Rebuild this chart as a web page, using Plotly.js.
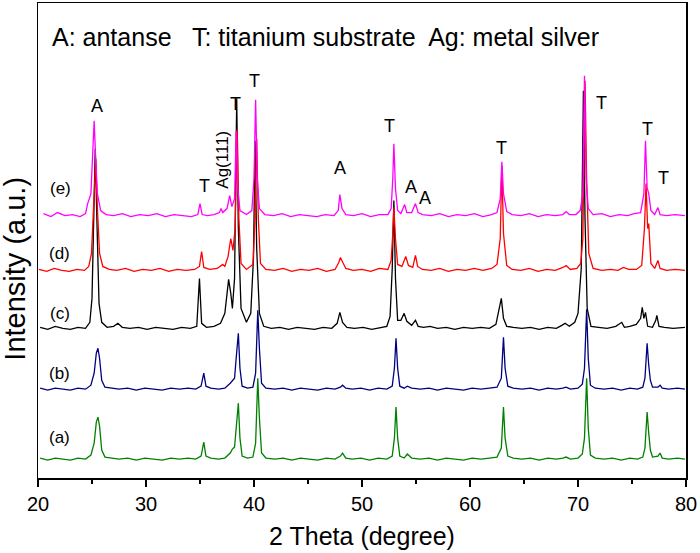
<!DOCTYPE html>
<html>
<head>
<meta charset="utf-8">
<script src="https://cdn.plot.ly/plotly-3.0.1.min.js"></script>
<style>html,body{margin:0;padding:0;background:#fff;}#chart{width:700px;height:553px;}</style>
</head>
<body>
<div id="chart"></div>
<script>
// ---- data (2 theta in degree, intensity in a.u. as plotted with stacking offset) ----
const seriesNames = ["(a)", "(b)", "(c)", "(d)", "(e)"];
const seriesColors = ["#008000", "#000080", "#000000", "#FF0000", "#FF00FF"];

const seriesE = [[20.5,265],[21.2,262],[21.8,266],[22.5,263],[23.2,264],[23.9,262],[24.4,265],[24.6,275],[24.9,285],[25.05,320],[25.2,358],[25.35,318],[25.5,285],[25.8,268],[26.3,264],[27.0,263],[27.8,265],[28.6,262],[29.4,264],[30.2,263],[31.0,265],[31.8,262],[32.6,264],[33.4,263],[34.2,262],[34.8,264],[35.0,275],[35.2,264],[35.7,263],[36.3,264],[36.8,266],[36.95,270],[37.1,266],[37.5,270],[37.75,283],[37.95,272],[38.2,280],[38.35,348],[38.5,290],[38.7,268],[39.3,264],[39.8,268],[40.0,300],[40.15,379],[40.3,300],[40.5,270],[41.0,264],[41.8,263],[42.6,265],[43.4,262],[44.2,264],[45.0,263],[45.8,262],[46.6,264],[47.4,263],[47.8,268],[47.95,284],[48.15,270],[48.5,264],[49.2,263],[50.0,265],[50.8,262],[51.6,264],[52.4,264],[52.7,270],[52.85,300],[52.95,335],[53.1,290],[53.3,268],[53.6,265],[53.95,274],[54.15,266],[54.6,266],[54.95,275],[55.2,266],[55.6,264],[56.4,263],[57.2,265],[58.0,262],[58.8,264],[59.6,263],[60.4,265],[61.2,262],[62.0,264],[62.5,266],[62.8,280],[62.95,317],[63.1,285],[63.4,267],[63.9,264],[64.7,263],[65.5,265],[66.3,262],[67.1,264],[67.9,263],[68.6,264],[68.9,267],[69.2,264],[69.8,264],[70.2,268],[70.45,285],[70.6,403],[70.75,300],[70.95,270],[71.4,264],[72.2,265],[73.0,262],[73.8,264],[74.6,263],[75.2,265],[75.8,266],[76.1,285],[76.25,338],[76.4,291],[76.55,285],[76.75,268],[77.1,264],[77.4,271],[77.6,264],[78.2,263],[79.0,264],[79.9,263]];

const seriesD = [[20.1,209],[20.8,207],[21.5,210],[22.2,208],[22.9,207],[23.6,209],[24.3,208],[24.7,212],[24.95,225],[25.15,270],[25.35,320],[25.5,270],[25.7,225],[26.0,212],[26.6,209],[27.3,208],[28.1,210],[28.9,207],[29.7,209],[30.5,208],[31.3,210],[32.1,207],[32.9,209],[33.7,208],[34.5,209],[34.95,212],[35.15,227],[35.35,211],[35.9,209],[36.6,210],[37.1,214],[37.3,212],[37.6,222],[37.85,240],[38.05,228],[38.25,250],[38.45,349],[38.6,260],[38.8,215],[39.3,209],[39.9,214],[40.1,260],[40.25,340],[40.4,260],[40.6,215],[41.1,209],[41.9,208],[42.7,210],[43.5,207],[44.3,209],[45.1,208],[45.9,210],[46.7,207],[47.5,209],[47.85,216],[48.0,221],[48.2,216],[48.5,210],[49.2,208],[50.0,209],[50.8,207],[51.6,210],[52.4,209],[52.7,218],[52.85,245],[52.95,271],[53.1,240],[53.3,214],[53.7,212],[54.05,222],[54.3,213],[54.7,211],[54.95,223],[55.15,212],[55.6,209],[56.4,208],[57.2,210],[58.0,207],[58.8,209],[59.6,208],[60.4,210],[61.2,208],[62.0,210],[62.5,214],[62.8,240],[62.95,313],[63.1,245],[63.4,213],[63.9,209],[64.7,208],[65.5,210],[66.3,207],[67.1,209],[67.9,208],[68.6,211],[68.9,213],[69.3,209],[69.9,210],[70.25,215],[70.45,240],[70.65,398],[70.8,300],[71.0,225],[71.4,210],[72.2,208],[73.0,209],[73.7,208],[74.2,211],[74.7,209],[75.4,209],[75.9,213],[76.15,250],[76.3,295],[76.45,250],[76.55,255],[76.75,215],[77.1,210],[77.4,218],[77.6,210],[78.2,208],[79.0,209],[79.9,208]];

const seriesC = [[20.2,151],[20.9,149],[21.6,152],[22.3,150],[23.0,149],[23.7,151],[24.4,150],[24.8,156],[25.0,180],[25.15,270],[25.3,330],[25.45,260],[25.65,175],[25.9,156],[26.4,151],[27.0,152],[27.4,155],[27.8,151],[28.5,150],[29.3,151],[30.1,149],[30.9,151],[31.7,150],[32.5,149],[33.3,151],[34.1,150],[34.7,152],[34.95,200],[35.15,155],[35.6,151],[36.3,152],[36.9,155],[37.3,165],[37.65,199],[37.85,185],[38.0,170],[38.2,200],[38.4,380],[38.55,250],[38.8,170],[39.3,156],[39.7,165],[39.95,220],[40.1,338],[40.25,230],[40.5,165],[40.9,152],[41.6,150],[42.4,151],[43.2,149],[44.0,151],[44.8,150],[45.6,149],[46.4,151],[47.2,150],[47.7,155],[47.95,166],[48.2,156],[48.6,151],[49.3,150],[50.1,151],[50.9,149],[51.7,151],[52.3,152],[52.6,162],[52.8,210],[52.95,278],[53.1,200],[53.3,158],[53.6,158],[53.9,165],[54.15,157],[54.6,153],[54.95,158],[55.2,152],[55.7,151],[56.3,152],[57.0,150],[57.8,151],[58.6,149],[59.4,151],[60.2,150],[61.0,151],[61.8,150],[62.4,154],[62.75,170],[62.9,180],[63.1,160],[63.4,152],[64.0,151],[64.8,150],[65.6,151],[66.4,149],[67.2,151],[68.0,150],[68.5,153],[68.8,155],[69.2,152],[69.7,156],[70.0,165],[70.3,210],[70.5,388],[70.65,260],[70.85,170],[71.2,152],[71.9,151],[72.7,150],[73.5,152],[74.05,156],[74.3,151],[74.8,152],[75.4,154],[75.8,160],[75.95,171],[76.1,160],[76.25,166],[76.45,152],[76.9,151],[77.2,158],[77.3,163],[77.5,152],[78.0,151],[78.8,150],[79.9,151]];

const seriesB = [[20.2,90],[20.9,88],[21.6,90],[22.3,89],[23.0,88],[23.7,90],[24.4,89],[24.9,93],[25.2,105],[25.4,125],[25.55,130],[25.7,120],[25.9,98],[26.2,91],[26.8,90],[27.5,89],[28.3,90],[29.1,88],[29.9,90],[30.7,89],[31.5,88],[32.3,90],[33.1,89],[33.9,90],[34.6,89],[35.1,92],[35.35,105],[35.55,92],[36.0,90],[36.7,89],[37.3,90],[37.8,95],[38.0,98],[38.2,100],[38.35,120],[38.55,145],[38.7,110],[38.9,92],[39.4,90],[39.9,91],[40.15,105],[40.35,168],[40.5,130],[40.7,95],[41.1,90],[41.9,89],[42.7,90],[43.5,88],[44.3,90],[45.1,89],[45.9,88],[46.7,90],[47.5,89],[48.0,91],[48.2,93],[48.5,90],[49.1,89],[49.9,90],[50.7,88],[51.5,90],[52.3,89],[52.8,92],[53.0,110],[53.15,140],[53.3,110],[53.5,92],[53.9,90],[54.2,92],[54.6,90],[55.4,89],[56.2,90],[57.0,88],[57.8,90],[58.6,89],[59.4,88],[60.2,90],[61.0,89],[61.8,90],[62.5,91],[62.9,100],[63.1,141],[63.25,110],[63.5,92],[64.0,90],[64.8,89],[65.6,90],[66.4,88],[67.2,90],[68.0,89],[68.6,90],[68.9,91],[69.3,89],[70.0,90],[70.4,94],[70.6,110],[70.8,169],[70.95,120],[71.15,93],[71.6,90],[72.4,89],[73.2,90],[74.0,88],[74.8,90],[75.5,89],[76.0,91],[76.2,100],[76.4,135],[76.55,113],[76.7,98],[76.9,91],[77.4,91],[77.6,93],[77.8,90],[78.4,89],[79.2,90],[79.9,89]];

const seriesA = [[20.2,20],[20.9,18],[21.6,20],[22.3,19],[23.0,18],[23.7,20],[24.4,19],[24.9,23],[25.2,35],[25.4,56],[25.55,61],[25.7,52],[25.9,28],[26.2,21],[26.8,20],[27.5,19],[28.3,20],[29.1,18],[29.9,20],[30.7,19],[31.5,18],[32.3,20],[33.1,19],[33.9,20],[34.6,19],[35.1,22],[35.35,36],[35.55,22],[36.0,20],[36.7,19],[37.3,20],[37.8,25],[38.0,29],[38.2,31],[38.35,50],[38.55,75],[38.7,40],[38.9,22],[39.4,20],[39.9,21],[40.15,35],[40.35,100],[40.5,60],[40.7,25],[41.1,20],[41.9,19],[42.7,20],[43.5,18],[44.3,20],[45.1,19],[45.9,18],[46.7,20],[47.5,19],[48.0,22],[48.2,25],[48.5,20],[49.1,19],[49.9,20],[50.7,18],[51.5,20],[52.3,19],[52.8,22],[53.0,40],[53.15,71],[53.3,40],[53.5,22],[53.9,20],[54.2,24],[54.6,20],[55.4,19],[56.2,20],[57.0,18],[57.8,20],[58.6,19],[59.4,18],[60.2,20],[61.0,19],[61.8,20],[62.5,21],[62.9,30],[63.1,71],[63.25,40],[63.5,22],[64.0,20],[64.8,19],[65.6,20],[66.4,18],[67.2,20],[68.0,19],[68.6,20],[68.9,21],[69.3,19],[70.0,20],[70.4,24],[70.6,40],[70.8,100],[70.95,50],[71.15,23],[71.6,20],[72.4,19],[73.2,20],[74.0,18],[74.8,20],[75.5,19],[76.0,21],[76.2,30],[76.4,66],[76.55,45],[76.7,28],[76.9,21],[77.4,22],[77.6,25],[77.8,20],[78.4,19],[79.2,20],[79.9,19]];

const allSeries = [seriesA, seriesB, seriesC, seriesD, seriesE];

// peak labels: [2theta, intensity, text]
const peakLabelX = [25.46, 35.46, 38.33, 40.09, 47.96, 52.5, 54.54, 55.83, 62.87, 72.13, 76.48, 77.87];
const peakLabelY = [373, 293, 375, 398, 311, 353, 292, 281, 331, 376, 350, 301];
const peakLabelText = ["A", "T", "T", "T", "A", "T", "A", "A", "T", "T", "T", "T"];
const agLabel = {x: 37.13, y: 319, text: "Ag(111)"};
const seriesLabelX = [22.0, 22.0, 22.0, 22.0, 22.1];
const seriesLabelY = [41, 105, 165, 225, 290];
const legendText = "A: antanse   T: titanium substrate  Ag: metal silver";
const xTickVals = [20, 30, 40, 50, 60, 70, 80];
const xTitle = "2 Theta (degree)";
const yTitle = "Intensity (a.u.)";

// ---- figure ----
const FONT = "Arial, 'Liberation Sans', sans-serif";
const traces = allSeries.map((s, i) => ({
  type: "scatter", mode: "lines",
  x: s.map(p => p[0]), y: s.map(p => p[1]),
  line: {color: seriesColors[i], width: 1.3},
  name: seriesNames[i], hoverinfo: "skip"
}));

const annotations = [];
peakLabelX.forEach((x, i) => annotations.push({
  x: x, y: peakLabelY[i], xref: "x", yref: "y", text: peakLabelText[i],
  showarrow: false, font: {family: FONT, size: 18, color: "#000"}
}));
annotations.push({x: agLabel.x, y: agLabel.y, xref: "x", yref: "y", text: agLabel.text,
  textangle: -90, showarrow: false, font: {family: FONT, size: 17, color: "#000"}});
seriesNames.forEach((n, i) => annotations.push({
  x: seriesLabelX[i], y: seriesLabelY[i], xref: "x", yref: "y", text: n,
  showarrow: false, font: {family: FONT, size: 17, color: "#000"}
}));
annotations.push({x: 21.1, y: 442, xref: "x", yref: "y", xanchor: "left", text: legendText,
  showarrow: false, font: {family: FONT, size: 25, color: "#000"}});
// y axis title (placed as rotated text so its vertical position can follow the reference)
annotations.push({x: -0.036, y: 0.44, xref: "paper", yref: "paper", xanchor: "center", yanchor: "middle",
  text: yTitle, textangle: -90, showarrow: false, font: {family: FONT, size: 29, color: "#000"}});

const layout = {
  width: 700, height: 553,
  margin: {l: 38, r: 14, t: 3, b: 75},
  paper_bgcolor: "#fff", plot_bgcolor: "#fff",
  showlegend: false,
  xaxis: {
    range: [20, 80], tickvals: xTickVals, ticktext: xTickVals.map(String),
    ticks: "outside", ticklen: 7, tickwidth: 1.5, tickcolor: "#000",
    minor: {dtick: 5, ticks: "outside", ticklen: 4, tickwidth: 1.5, tickcolor: "#000", tick0: 20},
    showline: true, linecolor: "#000", linewidth: 1.5, mirror: true,
    showgrid: false, zeroline: false,
    tickfont: {family: FONT, size: 20, color: "#000"},
    title: {text: xTitle, font: {family: FONT, size: 25, color: "#000"}, standoff: 14}
  },
  yaxis: {
    range: [0, 476], showticklabels: false, ticks: "",
    showline: true, linecolor: "#000", linewidth: 1.5, mirror: true,
    showgrid: false, zeroline: false
  },
  annotations: annotations
};

Plotly.newPlot("chart", traces, layout, {staticPlot: true});
</script>
</body>
</html>
